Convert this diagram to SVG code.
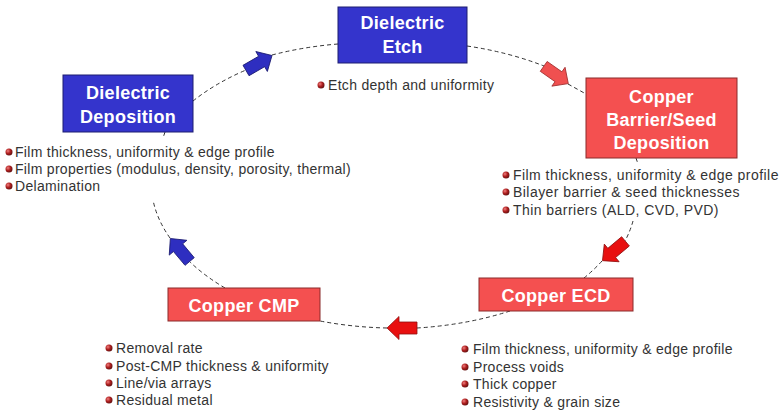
<svg xmlns="http://www.w3.org/2000/svg" width="783" height="414" viewBox="0 0 783 414">
<defs>
<radialGradient id="bul" cx="0.35" cy="0.35" r="0.7">
<stop offset="0" stop-color="#f08080"/>
<stop offset="0.5" stop-color="#b02020"/>
<stop offset="1" stop-color="#601010"/>
</radialGradient>
<polygon id="arr" points="-15,-6 3,-6 3,-11.5 15,0 3,11.5 3,6 -15,6"/>
</defs>
<style>
.blue{fill:#3434cc;stroke:#1c1c70;stroke-width:1}
.red{fill:#f45050;stroke:#8a2a2a;stroke-width:1}
.lbl{font-family:"Liberation Sans",Arial,sans-serif;font-weight:bold;font-size:18px;fill:#ffffff;text-anchor:middle;letter-spacing:0.3px}
.txt{font-family:"Liberation Sans",Arial,sans-serif;font-size:14px;fill:#333333;letter-spacing:0.3px}
.bul{fill:url(#bul)}
.dash{fill:none;stroke:#333333;stroke-width:1;stroke-dasharray:4,3}
.ab{fill:#2e2ec0;stroke:#1a1a70;stroke-width:0.8}
.ar{fill:#e81010;stroke:#901010;stroke-width:0.8}
.arl{fill:#f05050;stroke:#a03030;stroke-width:0.8}
</style>
<rect width="783" height="414" fill="#ffffff"/>

<g id="connectors">
<path class="dash" d="M193,101 A245,143 0 0 1 246,70"/>
<path class="dash" d="M272,55 A245,143 0 0 1 338,44"/>
<path class="dash" d="M467,46 A245,143 0 0 1 544,66"/>
<path class="dash" d="M568,84 L586,94"/>
<path class="dash" d="M636,158 L638,164"/>
<path class="dash" d="M633,221 A245,143 0 0 1 625,241"/>
<path class="dash" d="M602,261 A245,143 0 0 1 584,278"/>
<path class="dash" d="M510,311 A245,143 0 0 1 417,328"/>
<path class="dash" d="M387,328 A245,143 0 0 1 320,321"/>
<path class="dash" d="M225,288 A245,143 0 0 1 190,262"/>
<path class="dash" d="M170,238 A245,143 0 0 1 153,200"/>
<path class="dash" d="M165,132 L163,138"/>
<use href="#arr" class="ab" transform="translate(259,63) rotate(-30)"/>
<use href="#arr" class="arl" transform="translate(556,75) rotate(35)"/>
<use href="#arr" class="ar" transform="translate(614,251) rotate(140)"/>
<use href="#arr" class="ar" transform="translate(402,328) rotate(180)"/>
<use href="#arr" class="ab" transform="translate(180,250) rotate(-130)"/>
</g>

<g id="dielectric-etch">
<rect class="blue" x="338" y="7" width="129" height="56"/>
<text class="lbl" x="402.5" y="29">Dielectric</text>
<text class="lbl" x="402.5" y="53">Etch</text>
<circle class="bul" cx="321" cy="85" r="3.5"/>
<text class="txt" x="328" y="90">Etch depth and uniformity</text>
</g>

<g id="dielectric-deposition">
<rect class="blue" x="63" y="75" width="130" height="57"/>
<text class="lbl" x="128" y="99">Dielectric</text>
<text class="lbl" x="128" y="123">Deposition</text>
<circle class="bul" cx="9" cy="152" r="3.5"/>
<text class="txt" x="15" y="157">Film thickness, uniformity &amp; edge profile</text>
<circle class="bul" cx="9" cy="169" r="3.5"/>
<text class="txt" x="15" y="174">Film properties (modulus, density, porosity, thermal)</text>
<circle class="bul" cx="9" cy="186" r="3.5"/>
<text class="txt" x="15" y="191">Delamination</text>
</g>

<g id="copper-barrier-seed">
<rect class="red" x="586" y="78" width="151" height="80"/>
<text class="lbl" x="661.5" y="103">Copper</text>
<text class="lbl" x="661.5" y="126">Barrier/Seed</text>
<text class="lbl" x="661.5" y="149">Deposition</text>
<circle class="bul" cx="506" cy="175" r="3.5"/>
<text class="txt" x="513" y="180" style="letter-spacing:0.45px">Film thickness, uniformity &amp; edge profile</text>
<circle class="bul" cx="506" cy="192" r="3.5"/>
<text class="txt" x="513" y="197" style="letter-spacing:0.45px">Bilayer barrier &amp; seed thicknesses</text>
<circle class="bul" cx="506" cy="210" r="3.5"/>
<text class="txt" x="513" y="215" style="letter-spacing:0.45px">Thin barriers (ALD, CVD, PVD)</text>
</g>

<g id="copper-ecd">
<rect class="red" x="479" y="278" width="154" height="33"/>
<text class="lbl" x="556" y="302">Copper ECD</text>
<circle class="bul" cx="465" cy="349" r="3.5"/>
<text class="txt" x="473" y="354">Film thickness, uniformity &amp; edge profile</text>
<circle class="bul" cx="465" cy="367" r="3.5"/>
<text class="txt" x="473" y="372">Process voids</text>
<circle class="bul" cx="465" cy="384" r="3.5"/>
<text class="txt" x="473" y="389">Thick copper</text>
<circle class="bul" cx="465" cy="402" r="3.5"/>
<text class="txt" x="473" y="407">Resistivity &amp; grain size</text>
</g>

<g id="copper-cmp">
<rect class="red" x="168" y="288" width="152" height="33"/>
<text class="lbl" x="244" y="312">Copper CMP</text>
<circle class="bul" cx="109" cy="348" r="3.5"/>
<text class="txt" x="116" y="353">Removal rate</text>
<circle class="bul" cx="109" cy="366" r="3.5"/>
<text class="txt" x="116" y="371">Post-CMP thickness &amp; uniformity</text>
<circle class="bul" cx="109" cy="383" r="3.5"/>
<text class="txt" x="116" y="388">Line/via arrays</text>
<circle class="bul" cx="109" cy="400" r="3.5"/>
<text class="txt" x="116" y="405">Residual metal</text>
</g>
</svg>
